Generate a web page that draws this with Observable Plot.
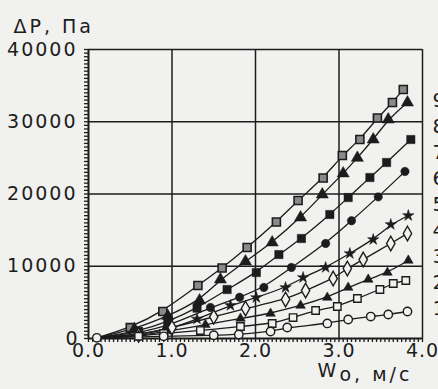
<!DOCTYPE html>
<html>
<head>
<meta charset="utf-8">
<script src="https://cdn.jsdelivr.net/npm/d3@7"></script>
<script src="https://cdn.jsdelivr.net/npm/@observablehq/plot@0.6"></script>
<style>
  html, body { margin: 0; padding: 0; background: #f1f1ef; }
  #chart { width: 438px; height: 389px; overflow: hidden; }
</style>
</head>
<body>
<div id="chart"></div>
<script>
// ---- data (W0 in m/s, ΔP in Pa) ----
const origin = [[0.1, 100]];
const s9 = [[0.5,1500],[0.89,3740],[1.31,7340],[1.60,9760],[1.90,12600],[2.25,16120],[2.51,19100],[2.81,22210],[3.04,25330],[3.25,27540],[3.46,30520],[3.64,32660],[3.77,34460]];
const s8 = [[0.55,1300],[0.95,3100],[1.33,5260],[1.58,8170],[1.88,10660],[2.20,13290],[2.54,16750],[2.80,19930],[3.05,22840],[3.22,25000],[3.41,27540],[3.59,30310],[3.82,32660]];
const s7 = [[0.6,1000],[0.95,2300],[1.3,4200],[1.66,6780],[2.01,9130],[2.28,11620],[2.55,13840],[2.89,17160],[3.11,19510],[3.37,22280],[3.57,24360],[3.86,27540]];
const s6 = [[0.6,800],[0.95,1700],[1.46,4300],[1.81,5700],[2.10,7060],[2.43,9830],[2.84,13150],[3.15,16300],[3.47,19600],[3.79,23120]];
const s5 = [[0.6,600],[0.95,1200],[1.3,2700],[1.70,4570],[2.01,5670],[2.36,7060],[2.57,8440],[2.84,9830],[3.13,11760],[3.41,13700],[3.62,15780],[3.83,17020]];
const s4 = [[0.6,500],[1.0,1500],[1.5,3000],[1.88,4150],[2.36,5400],[2.60,6640],[2.93,8300],[3.10,9690],[3.29,10930],[3.62,13150],[3.82,14530]];
const s3 = [[0.6,400],[0.9,900],[1.4,1900],[1.82,2770],[2.18,3460],[2.54,4570],[2.86,5670],[3.11,7060],[3.35,8170],[3.58,9130],[3.83,10800]];
const s2 = [[0.6,300],[0.9,700],[1.34,1100],[1.82,1660],[2.20,2080],[2.45,2900],[2.72,3880],[2.98,4430],[3.22,5540],[3.49,6780],[3.65,7610],[3.80,8030]];
const s1 = [[0.9,300],[1.5,450],[1.80,550],[2.18,970],[2.38,1520],[2.86,2080],[3.11,2630],[3.38,3040],[3.59,3320],[3.82,3740]];
const seriesNames = ["9","8","7","6","5","4","3","2","1"];
const xTickLabels = [0, 1, 2, 3, 4];
const yTickLabels = [0, 10000, 20000, 30000, 40000];
const yTitle = "ΔP, Па";
const xTitleMain = "W";
const xTitleRest = "o, м/с";

// ---- styles ----
const ink = "#1c1c1c";
const bg = "#f1f1ef";
const seriesData = [s9, s8, s7, s6, s5, s4, s3, s2, s1];
const markerStyle = [
  {symbol: "square",   fill: "#8a8a8a", stroke: ink, strokeWidth: 1.6, r: 4.5},
  {symbol: "triangle", fill: ink, stroke: ink, strokeWidth: 0.5, r: 4.5},
  {symbol: "square",   fill: ink, stroke: ink, strokeWidth: 0.5, r: 4.7},
  {symbol: "circle",   fill: ink, stroke: ink, strokeWidth: 0.5, r: 4.2},
  {symbol: "star",     fill: ink, stroke: ink, strokeWidth: 0.5, r: 3.6},
  {symbol: "diamond",  fill: bg,  stroke: ink, strokeWidth: 1.4, r: 4.4},
  {symbol: "triangle", fill: ink, stroke: ink, strokeWidth: 0.5, r: 3.6},
  {symbol: "square",   fill: bg,  stroke: ink, strokeWidth: 1.4, r: 4.2},
  {symbol: "circle",   fill: bg,  stroke: ink, strokeWidth: 1.4, r: 4.2}
];

const marks = [
  Plot.gridX([1, 2, 3, 4], {stroke: ink, strokeOpacity: 1, strokeWidth: 1.5}),
  Plot.gridY([10000, 20000, 30000, 40000], {stroke: ink, strokeOpacity: 1, strokeWidth: 1.5}),
  Plot.ruleX([0], {stroke: ink, strokeWidth: 2}),
  Plot.ruleY([0], {stroke: ink, strokeWidth: 2}),
  Plot.axisX(d3.range(0, 4.0001, 0.05), {tickSize: 4, text: null, label: null, strokeWidth: 1.3, stroke: ink}),
  Plot.axisY(d3.range(0, 40001, 500), {tickSize: 4, text: null, label: null, strokeWidth: 1.3, stroke: ink}),
  Plot.axisX(xTickLabels, {tickSize: 0, tickPadding: 5, tickFormat: d3.format(".1f"), label: null, fill: ink, fontSize: 19}),
  Plot.axisY(yTickLabels, {tickSize: 0, tickPadding: 11, tickFormat: d => String(d), label: null, fill: ink, fontSize: 19})
];

seriesData.forEach((s) => {
  marks.push(Plot.line(origin.concat(s), {x: d => d[0], y: d => d[1], curve: "basis", stroke: ink, strokeWidth: 1.3}));
});
seriesData.forEach((s, i) => {
  const st = markerStyle[i];
  marks.push(Plot.dot(s, {x: d => d[0], y: d => d[1], symbol: st.symbol, fill: st.fill, stroke: st.stroke, strokeWidth: st.strokeWidth, r: st.r}));
});
marks.push(Plot.dot(origin, {x: d => d[0], y: d => d[1], symbol: "circle", fill: bg, stroke: ink, strokeWidth: 1.4, r: 4.2}));

// titles and series numbers (positioned in the margins)
marks.push(Plot.text([yTitle], {frameAnchor: "top-left", textAnchor: "start", dx: -75, dy: -30, fontSize: 19, fill: ink}));
marks.push(Plot.text([xTitleMain], {frameAnchor: "bottom-right", textAnchor: "start", dx: -105, dy: 38, fontSize: 19, fill: ink}));
marks.push(Plot.text([xTitleRest], {frameAnchor: "bottom-right", textAnchor: "start", dx: -83, dy: 42, fontSize: 19, fill: ink}));
seriesNames.forEach((n, i) => {
  marks.push(Plot.text([n], {frameAnchor: "top-right", textAnchor: "start", dx: 10, dy: 43 + i * 26, fontSize: 20, fill: ink}));
});

const chart = Plot.plot({
  width: 438,
  height: 389,
  marginTop: 49,
  marginRight: 16,
  marginBottom: 51,
  marginLeft: 88,
  x: {domain: [0, 4]},
  y: {domain: [0, 40000]},
  style: {fontFamily: "DejaVu Sans", fontSize: "18px", background: bg, color: ink, overflow: "hidden"},
  marks
});
// wider letter spacing, like the scanned typeface
d3.select(chart).selectAll("text").each(function() {
  const t = this.textContent;
  if (/^[0-9]+$/.test(t) && t.length > 1) this.setAttribute("letter-spacing", "2");
  if (/^[0-9]\.[0-9]$/.test(t)) this.setAttribute("letter-spacing", "1");
  if (t === yTitle) this.setAttribute("letter-spacing", "3");
  if (t === xTitleRest) this.setAttribute("letter-spacing", "3");
});
document.getElementById("chart").appendChild(chart);
</script>
</body>
</html>
